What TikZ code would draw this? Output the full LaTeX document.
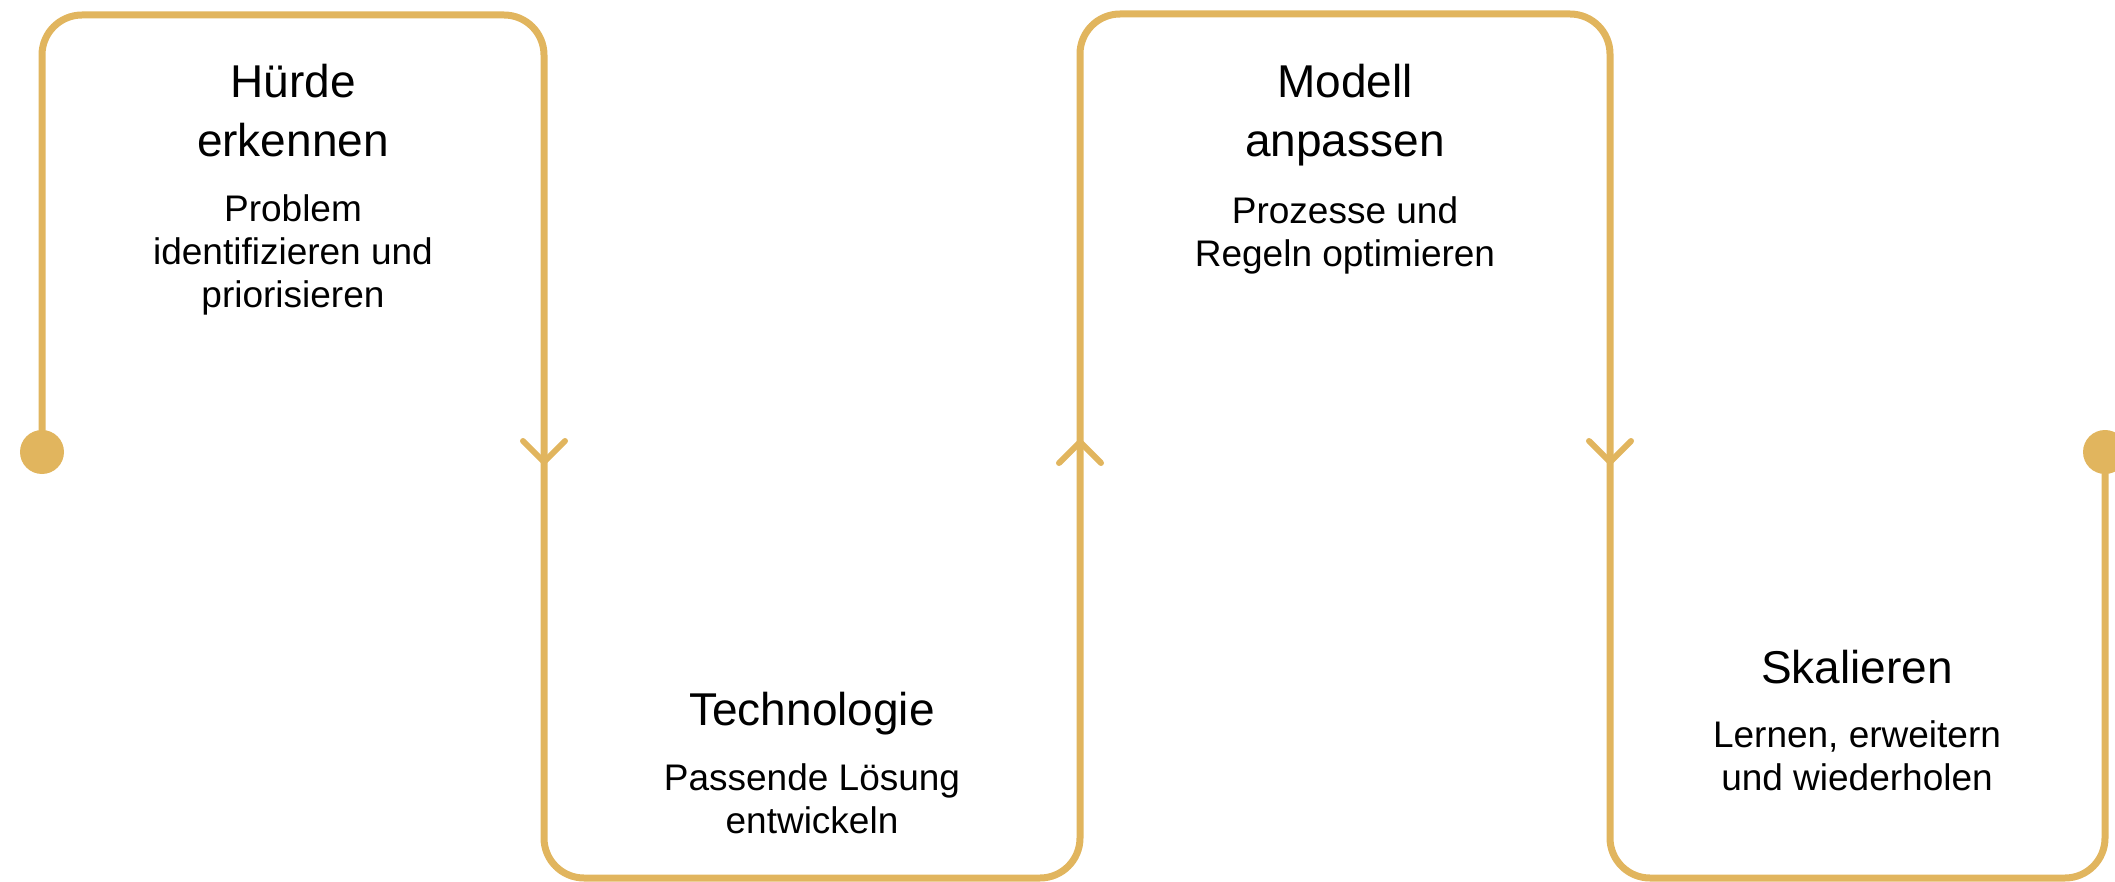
\documentclass[tikz,border=0pt]{standalone}
\usepackage{fontspec}
\setmainfont{Liberation Sans}
\definecolor{gold}{RGB}{225,181,94}

\begin{document}
\begin{tikzpicture}[x=1pt,y=1pt,line cap=round,line join=round,
        track/.style={draw=gold,line width=7pt,rounded corners=40pt},
        tip/.style={draw=gold,line width=6pt},
        head/.style={align=center,anchor=base,inner sep=0pt,font=\fontsize{46}{59}\selectfont},
        note/.style={align=center,anchor=base,inner sep=0pt,font=\fontsize{37}{43}\selectfont}]
        \useasboundingbox (0,0) rectangle (2115,-882);
        % corners of the meander
        \coordinate (start) at (42,-452);
        \coordinate (p1) at (42,-15);
        \coordinate (p2) at (544,-15);
        \coordinate (p3) at (544,-878);
        \coordinate (p4) at (1080,-878);
        \coordinate (p5) at (1080,-14);
        \coordinate (p6) at (1610,-14);
        \coordinate (p7) at (1610,-878);
        \coordinate (p8) at (2105,-878);
        \coordinate (stop) at (2105,-452);
        \draw[track] (start) -- (p1) -- (p2) -- (p3) -- (p4) -- (p5) -- (p6) -- (p7) -- (p8) -- (stop);
        \fill[gold] (start) circle (22);
        \fill[gold] (stop) circle (22);
        % direction marks
        \coordinate (a1) at (544,-462);
        \coordinate (a2) at (1080,-442);
        \coordinate (a3) at (1610,-462);
        \draw[tip] ([shift={(-21,21)}]a1) -- (a1) -- ++(21,21);
        \draw[tip] ([shift={(-21,-21)}]a2) -- (a2) -- ++(21,-21);
        \draw[tip] ([shift={(-21,21)}]a3) -- (a3) -- ++(21,21);
        % step texts (anchored at the last baseline)
        \node[head] (t1) at (293,-157) {Hürde\\erkennen};
        \node[note] (s1) at (293,-308) {Problem\\identifizieren und\\priorisieren};
        \node[head] (t2) at (812,-725) {Technologie};
        \node[note] (s2) at (812,-833) {Passende Lösung\\entwickeln};
        \node[head] (t3) at (1345,-157) {Modell\\anpassen};
        \node[note] (s3) at (1345,-267) {Prozesse und\\Regeln optimieren};
        \node[head] (t4) at (1857,-683) {Skalieren};
        \node[note] (s4) at (1857,-790) {Lernen, erweitern\\und wiederholen};
\end{tikzpicture}
\end{document}
